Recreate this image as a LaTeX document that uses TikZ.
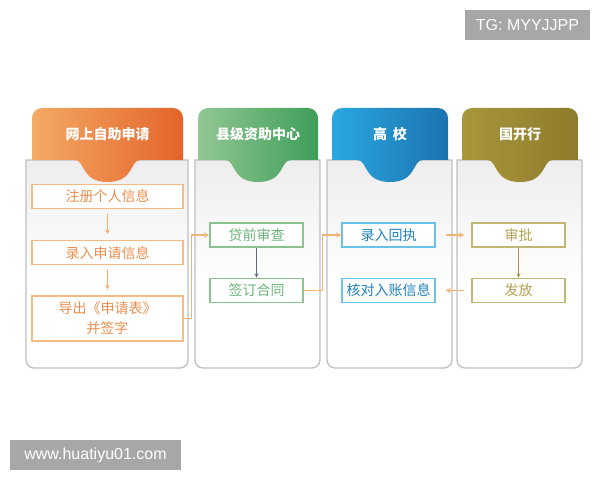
\documentclass[tikz,border=0pt]{standalone}
\usepackage{fontspec}
\newfontfamily\cjk{Noto Sans CJK SC}
\newfontfamily\wmfont{Liberation Sans}
\usetikzlibrary{positioning}
\definecolor{orangeL}{HTML}{F3AA66}
\definecolor{orangeR}{HTML}{E4642A}
\definecolor{greenL}{HTML}{92C794}
\definecolor{greenR}{HTML}{3E9E58}
\definecolor{blueL}{HTML}{2AA8DF}
\definecolor{blueR}{HTML}{1B72B0}
\definecolor{oliveL}{HTML}{A8973C}
\definecolor{oliveR}{HTML}{8E7B2C}
\definecolor{linkorange}{HTML}{F1B478}
\definecolor{slate}{HTML}{5C6B82}
\definecolor{wmgray}{HTML}{A7A7A7}
\pgfdeclareverticalshading{cardshade}{100bp}{color(0bp)=(white); color(45bp)=(white); color(80bp)=(black!8); color(100bp)=(black!20)}
\tikzset{x=1pt, y=1pt, % one unit is one pixel of the picture
>=stealth, % small solid arrow heads
node distance=30pt, % gap between two boxes of one column
stepbox/.style={draw, fill=white, line width=1.2pt, minimum height=24pt, inner sep=1pt, font=\cjk\fontsize{14}{20}\selectfont}, % the step boxes
obox/.style={stepbox, draw=orangeL!80, text=orangeL!60!orangeR, minimum width=151pt},
gbox/.style={stepbox, draw=greenL!90!greenR, text=greenL!55!greenR, minimum width=93pt},
bbox/.style={stepbox, draw=blueL!70, text=blueL!30!blueR, minimum width=93pt},
ybox/.style={stepbox, draw=oliveL!70, text=oliveL!90, minimum width=93pt},
headtext/.style={text=white, font=\cjk\bfseries\fontsize{14}{16}\selectfont}, % column titles
link/.style={->, line width=1.4pt, draw=linkorange}, % arrows between columns
wmbox/.style={fill=wmgray, text=white, inner sep=0pt, minimum height=30pt, font=\wmfont\fontsize{16}{18}\selectfont},
}

\begin{document}
\begin{tikzpicture}
\useasboundingbox (0,0) rectangle (600,480);
% cards
\foreach \xl/\xr in {26/188, 195/320, 327/452, 457/582}
\shadedraw[shading=cardshade, draw=gray!50, line width=1.3pt] (\xl,320) -- (\xl,120) arc[start angle=180, end angle=270, radius=8] -- ({\xr-8},112) arc[start angle=270, end angle=360, radius=8] -- (\xr,320) -- cycle;
% header tabs
\foreach \xl/\xr/\cl/\cr in {32/183/orangeL/orangeR, 198/318/greenL/greenR, 332/448/blueL/blueR, 462/578/oliveL/oliveR}
\shade[left color=\cl, right color=\cr] (\xl,320) -- (\xl,362) arc[start angle=180, end angle=90, radius=10] -- ({\xr-10},372) arc[start angle=90, end angle=0, radius=10] -- (\xr,320) -- ({(\xl+\xr)/2+33},320) .. controls ({(\xl+\xr)/2+22},320) and ({(\xl+\xr)/2+27},298) .. ({(\xl+\xr)/2},298) .. controls ({(\xl+\xr)/2-27},298) and ({(\xl+\xr)/2-22},320) .. ({(\xl+\xr)/2-33},320) -- cycle;
\node[headtext] (apply) at (107.5,346) {网上自助申请};
\node[headtext] (county) at (258,346) {县级资助中心};
\node[headtext] (school) at (390,346) {高\hspace{6pt}校};
\node[headtext] (bank) at (520,346) {国开行};
% steps
\node[obox] (register) at (107.5,283.5) {注册个人信息};
\node[obox, below=31pt of register] (enter) {录入申请信息};
\node[obox, minimum height=45pt, align=center, below=of enter] (export) {导出《申请表》\\并签字};
\node[gbox] (check) at (256.5,245) {贷前审查};
\node[gbox, below=of check] (sign) {签订合同};
\node[bbox] (receipt) at (388.5,245) {录入回执};
\node[bbox, below=of receipt] (verify) {核对入账信息};
\node[ybox] (approve) at (518.5,245) {审批};
\node[ybox, below=of approve] (issue) {发放};
% arrows
\draw[->, draw=orangeL, line width=1pt, shorten <=5pt, shorten >=6pt] (register) -- (enter);
\draw[->, draw=orangeL, line width=1pt, shorten <=5pt, shorten >=6pt] (enter) -- (export);
\draw[->, draw=slate, line width=0.9pt] (check) -- (sign);
\draw[->, draw=oliveL, line width=0.9pt] (approve) -- (issue);
\draw[link] (export.east) -- ++(8,0) |- (check);
\draw[link] (sign.east) -- ++(19,0) |- (receipt);
\draw[link, shorten <=10pt, shorten >=7pt] (receipt) -- (approve);
\draw[link, shorten <=7pt, shorten >=10pt] (issue) -- (verify);
% watermarks
\node[wmbox, minimum width=125pt] (tg) at (527.5,455) {TG: MYYJJPP};
\node[wmbox, minimum width=171pt] (site) at (95.5,25) {www.huatiyu01.com};
\end{tikzpicture}
\end{document}
